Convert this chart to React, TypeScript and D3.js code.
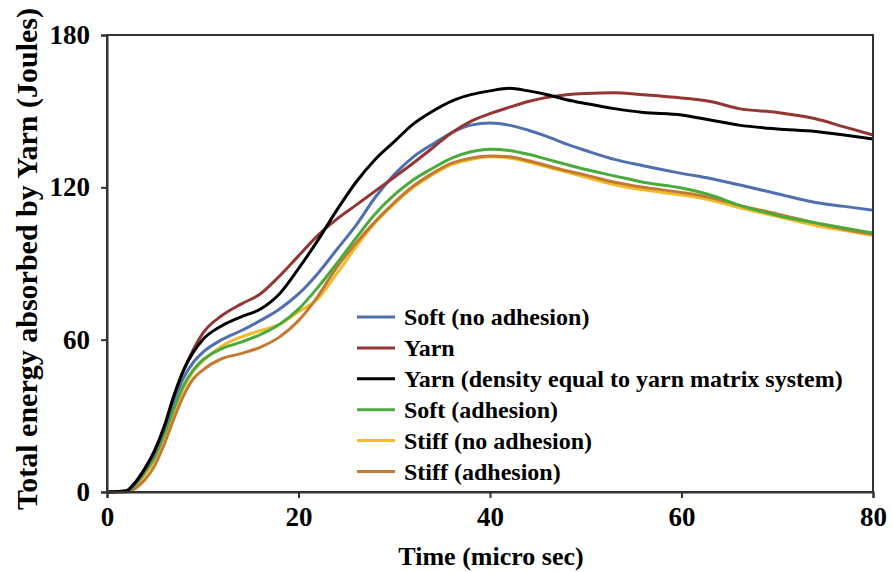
import React, { useEffect, useRef } from 'react'
import * as d3 from 'd3'

// time in micro seconds (shared by all series)
const times = [0, 2, 3, 4, 5, 6, 7, 8, 9, 10, 12, 14, 16, 18, 20, 22, 24, 26, 28, 30, 32, 34, 36, 38, 40, 42, 44, 46, 48, 50, 53, 56, 60, 63, 66, 70, 74, 77, 80]

const softNoAdhesion = [0, 0.3, 3.5, 9, 15.5, 25, 36, 45, 51, 55, 60, 63.5, 67.5, 72, 78, 86, 95.5, 105, 116, 125, 132, 137, 141.5, 144.5, 145.3, 144.5, 142.5, 140, 137, 134.5, 131, 128.5, 125.5, 123.5, 121, 117.5, 114, 112.5, 111]
const yarn = [0, 0.5, 4, 9.5, 16.5, 26, 38, 48, 56, 62.5, 69.5, 74, 78, 85, 93, 101, 107.5, 113, 118.5, 124, 129.6, 135.5, 141.5, 146, 149, 151.5, 153.8, 155.5, 156.5, 157, 157.3, 156.5, 155.2, 153.8, 151, 149.5, 147, 143.8, 140.6]
const yarnDensity = [0, 0.5, 4, 9.5, 16.5, 26, 38, 48, 55, 60, 65.5, 69, 72, 78, 88, 99, 111, 122, 131, 138, 145, 150, 154, 156.5, 158, 159, 158, 156.5, 154.5, 153, 151, 149.5, 148.5, 146.5, 144.5, 143, 142, 140.6, 139]
const softAdhesion = [0, 0.2, 3, 8, 14, 23, 33, 42, 48, 52, 56.5, 59, 62, 66, 72, 80.5, 90, 100, 109.5, 117, 123, 127.5, 131.5, 134, 135, 134.5, 133, 131, 129, 127, 124.5, 122, 119.7, 117, 113, 109, 106, 104, 102]
const stiffNoAdhesion = [0, 0.2, 2.5, 7, 13, 22, 32, 41, 47.5, 51.5, 57.5, 61, 63.5, 66, 71, 76, 86, 96.5, 106, 113.5, 120, 125, 129, 131, 132, 131.5, 130, 128, 126, 124, 121, 119, 117, 115, 112, 108.5, 105, 103, 101]
const stiffAdhesion = [0, 0, 1.5, 5, 10.5, 19, 29, 38, 44.5, 48, 52.5, 54.5, 57, 61, 67.5, 77, 88.5, 98, 106.5, 114, 120.5, 125.5, 129.5, 131.5, 132.3, 132, 130.5, 128.5, 126.5, 124.8, 122, 120, 118, 116, 113, 109.5, 106, 103.5, 101.6]

const seriesNames = ['Soft (no adhesion)', 'Yarn', 'Yarn (density equal to yarn matrix system)', 'Soft (adhesion)', 'Stiff (no adhesion)', 'Stiff (adhesion)']
const seriesColors = ['#4F6FB0', '#943634', '#000000', '#4BAA3C', '#F0BC2C', '#C47A30']
const seriesValues = [softNoAdhesion, yarn, yarnDensity, softAdhesion, stiffNoAdhesion, stiffAdhesion]
// draw order: yellow under orange etc.
const drawOrder = [4, 5, 3, 0, 1, 2]

const xTicks = [0, 20, 40, 60, 80]
const yTicks = [0, 60, 120, 180]

const FONT = '"Liberation Serif", "Times New Roman", serif'

const App = () => {
  const svgRef = useRef<SVGSVGElement>(null)

  const width = 893
  const height = 572
  const left = 107, right = 873, top = 35, bottom = 492

  useEffect(() => {
    const svg = d3.select(svgRef.current)
    svg.selectAll('*').remove()

    const x = d3.scaleLinear().domain([0, 80]).range([left, right])
    const y = d3.scaleLinear().domain([0, 180]).range([bottom, top])

    // lines
    const line = d3.line<number>()
      .x((d, i) => x(times[i]))
      .y(d => y(d))
      .curve(d3.curveMonotoneX)

    const lines = svg.append('g')
    drawOrder.forEach(k => {
      lines.append('path')
        .attr('d', line(seriesValues[k]))
        .attr('fill', 'none')
        .attr('stroke', seriesColors[k])
        .attr('stroke-width', 3)
    })

    // frame
    svg.append('rect')
      .attr('x', left).attr('y', top)
      .attr('width', right - left).attr('height', bottom - top)
      .attr('fill', 'none').attr('stroke', '#333').attr('stroke-width', 2)

    // axes
    const xAxis = svg.append('g')
      .attr('transform', `translate(0,${bottom})`)
      .call(d3.axisBottom(x).tickValues(xTicks).tickSize(6).tickPadding(9).tickFormat(d3.format('d')))
    const yAxis = svg.append('g')
      .attr('transform', `translate(${left},0)`)
      .call(d3.axisLeft(y).tickValues(yTicks).tickSize(6).tickPadding(11).tickFormat(d3.format('d')))

    ;[xAxis, yAxis].forEach(a => {
      a.select('.domain').attr('stroke', '#333').attr('stroke-width', 2)
      a.selectAll('.tick line').attr('stroke', '#333').attr('stroke-width', 2)
      a.selectAll('.tick text')
        .attr('font-family', FONT)
        .attr('font-weight', 'bold')
        .attr('font-size', 27)
        .attr('fill', '#000')
    })

    // axis titles
    svg.append('text')
      .attr('x', 491)
      .attr('y', 565)
      .attr('text-anchor', 'middle')
      .attr('font-family', FONT)
      .attr('font-weight', 'bold')
      .attr('font-size', 26)
      .text('Time (micro sec)')

    svg.append('text')
      .attr('transform', `translate(37,259) rotate(-90)`)
      .attr('text-anchor', 'middle')
      .attr('font-family', FONT)
      .attr('font-weight', 'bold')
      .attr('font-size', 30)
      .text('Total energy absorbed by Yarn (Joules)')

    // legend
    const legend = svg.append('g').attr('transform', 'translate(357,317)')
    seriesNames.forEach((name, i) => {
      const g = legend.append('g').attr('transform', `translate(0,${i * 30.9})`)
      g.append('line')
        .attr('x1', 0).attr('x2', 38)
        .attr('stroke', seriesColors[i]).attr('stroke-width', 3)
      g.append('text')
        .attr('x', 47).attr('dy', '0.35em')
        .attr('font-family', FONT)
        .attr('font-weight', 'bold')
        .attr('font-size', 24)
        .text(name)
    })
  }, [])

  return (
    <svg ref={svgRef} width={width} height={height} style={{ position: 'absolute', left: 0, top: 0, background: '#fff' }} />
  )
}

export default App
